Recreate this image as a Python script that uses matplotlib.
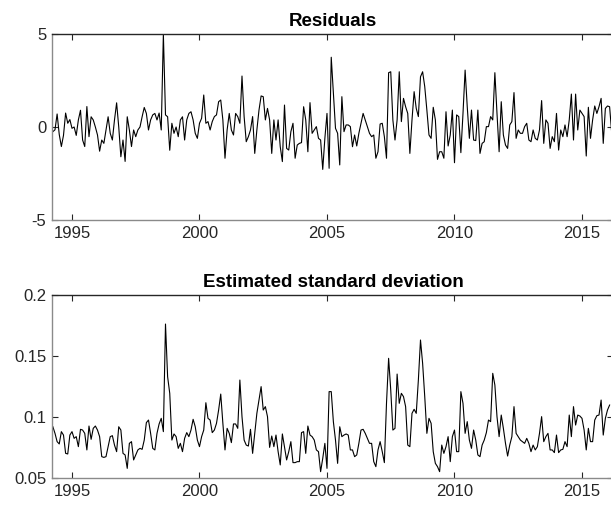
import numpy as np
import matplotlib
matplotlib.use("Agg")
import matplotlib.pyplot as plt

# monthly data, first observation April 1994
start_year = 1994
start_month = 4

residuals = [
    -0.25, -0.15, 0.7, -0.4, -1.05, -0.45, 0.75, 0.2, 0.4, -0.07, 0.0, -0.45, 0.38, 0.9, -0.7, -1.05,
    1.1, -0.52, 0.55, 0.38, 0.0, -0.43, -1.3, -0.7, -0.88, -0.16, 0.55, -0.34, -0.7, 0.38, 1.3, 0.0,
    -1.6, -0.7, -1.85, 0.55, -0.16, -1.05, -0.16, -0.52, -0.16, 0.0, 0.55, 1.05, 0.73, -0.16, 0.38, 0.65,
    0.73, 0.38, 0.75, -0.16, 5.0, 0.65, 0.55, -1.25, 0.2, -0.34, 0.0, -0.52, 0.38, 0.55, -0.7, 0.38,
    0.73, 0.82, 0.38, -0.34, -0.61, 0.2,
    0.47, 1.72, 0.2, 0.29, -0.16, 0.29, 0.56, 0.65, 1.36, 1.45, 0.38, -1.68, -0.16, 0.73, -0.16, -0.43,
    0.73, 0.56, 0.2, 2.74, 0.56, -0.79, -0.52, -0.16, 0.56, -1.42, -0.16, 0.91, 1.67, 1.63, 0.38, 1.0,
    0.38, -1.42, 0.38, -0.7, 0.38, -1.06, -1.86, 1.18, -1.15, -1.24, -0.25, 0.2, -1.68, -0.97, -0.88, -0.84,
    1.09, 0.38, -1.33, 1.31, -0.34, -0.16, 0.02, -0.61, -0.7, -2.28, -0.61, 0.73, -2.22, 3.75, 1.81, -0.07,
    -0.34, -2.04, 1.63, -0.25, 0.11, 0.11,
    0.02, -1.06, -0.43, -1.02, -0.34, 0.2, 0.73, 0.38, 0.02, -0.34, -0.52, -0.43, -1.68, -1.33, 0.16, 0.2,
    -0.52, -1.68, 2.92, 2.97, 0.38, -0.7, 0.38, 2.97, 0.29, 1.54, 1.09, 0.73, -1.42, 0.38, 1.9, 1.0,
    0.56, 2.7, 2.97, 2.17, 0.91, -0.43, -0.61, 1.06, 0.38, -1.74, -1.33, -1.33, -1.68, 0.82, -1.02, -0.43,
    0.91, -1.92, 0.65, 0.56, -1.38, 0.73, 3.06, 1.09, -0.61, 0.91, -0.7, -0.73, 0.91, -1.42, -0.88, -0.79,
    0.02, 0.02, 0.56,
    0.38, 2.92, 0.73, -1.33, 1.36, -0.43, -0.97, -1.15, 0.11, 0.29, 1.85, -0.61, -0.16, -0.34, -0.34, 0.02,
    0.2, -0.7, -0.79, -0.16, -0.61, -0.7, -0.16, 1.42, -0.88, 0.38, 0.2, -1.15, -0.52, -0.79, 0.73, -1.24,
    -0.16, -0.52, 0.11, -0.52, 0.38, 1.77, -0.7, 1.77, -0.16, 0.91, 0.73, 0.56, -1.56, 1.06, -0.61, 0.38,
    1.13, 0.73, 1.09, 1.54, -0.88, 1.0, 1.13, 1.09, -0.34,
]

std_dev = [
    0.092, 0.0866, 0.0798, 0.0779, 0.088, 0.0852, 0.0702, 0.0697, 0.0852, 0.088, 0.0825, 0.0839, 0.0757,
    0.0899, 0.0893, 0.0866, 0.073, 0.0926, 0.0817, 0.0907, 0.0926, 0.0893, 0.0839, 0.0675, 0.0669, 0.0675,
    0.0757, 0.0839, 0.0847, 0.077, 0.0716, 0.092, 0.0893, 0.0702, 0.0689, 0.0579, 0.0784, 0.0798, 0.0648,
    0.0689, 0.073, 0.0743, 0.0735, 0.0811, 0.0954, 0.0975, 0.0866, 0.0743, 0.073, 0.0866, 0.0943, 0.0989,
    0.088, 0.1762, 0.133, 0.1194, 0.0811, 0.0861, 0.0839, 0.0743, 0.0784, 0.0716, 0.0825, 0.0872, 0.0839,
    0.0893, 0.0981, 0.092, 0.0811, 0.0757,
    0.0839, 0.0893, 0.1117, 0.0989, 0.0975, 0.0872, 0.0893, 0.0948, 0.1057, 0.1188, 0.0948, 0.073, 0.0907,
    0.0866, 0.079, 0.0943, 0.0943, 0.0907, 0.1303, 0.1003, 0.0811, 0.077, 0.0762, 0.0899, 0.0702, 0.0866,
    0.103, 0.1139, 0.1249, 0.1057, 0.1085, 0.1003, 0.0751, 0.0844, 0.0757, 0.0852, 0.0716, 0.0607, 0.0861,
    0.0757, 0.0648, 0.0716, 0.0798, 0.0626, 0.0626, 0.0634, 0.0634, 0.0872, 0.088, 0.0702, 0.0926, 0.0852,
    0.0839, 0.0811, 0.073, 0.0716, 0.0552, 0.0661, 0.0784, 0.0579, 0.1208, 0.1208, 0.0962, 0.0811, 0.062,
    0.092, 0.0839, 0.0852,
    0.0861, 0.0852, 0.073, 0.073, 0.0675, 0.0689, 0.0784, 0.0893, 0.0899, 0.0866, 0.0825, 0.0784, 0.0784,
    0.0634, 0.0593, 0.073, 0.0798, 0.0716, 0.0626, 0.1112, 0.1481, 0.1221, 0.0893, 0.0907, 0.1352, 0.1112,
    0.1194, 0.1167, 0.1085, 0.077, 0.0757, 0.103, 0.1063, 0.103, 0.1303, 0.1631, 0.144, 0.1167, 0.0866,
    0.0989, 0.0948, 0.0716, 0.062, 0.0593, 0.0552, 0.077, 0.0702, 0.0757, 0.0839, 0.0634, 0.0839, 0.0893,
    0.0716, 0.0716, 0.1208, 0.1112, 0.0866, 0.0962, 0.0811, 0.0743, 0.0893, 0.0811, 0.0689, 0.0675, 0.077,
    0.0811, 0.0872,
    0.0975, 0.0962, 0.1358, 0.1262, 0.1003, 0.0839, 0.1016, 0.0907, 0.0784, 0.068, 0.077, 0.0839, 0.1085,
    0.0866, 0.0839, 0.0811, 0.0798, 0.0784, 0.0825, 0.0784, 0.0716, 0.077, 0.073, 0.0757, 0.0866, 0.1003,
    0.0798, 0.0839, 0.0866, 0.073, 0.073, 0.0708, 0.0852, 0.0708, 0.073, 0.0735, 0.0798, 0.0757, 0.1016,
    0.0839, 0.1085, 0.0934, 0.1016, 0.1008, 0.0989, 0.0893, 0.073, 0.0907, 0.0798, 0.0798, 0.0975, 0.1011,
    0.1016, 0.1139, 0.0852, 0.0989, 0.1057, 0.1098,
]

year_ticks = [1995, 2000, 2005, 2010, 2015]
res_ticks = [-5, 0, 5]
res_labels = ["-5", "0", "5"]
std_ticks = [0.05, 0.1, 0.15, 0.2]
std_labels = ["0.05", "0.1", "0.15", "0.2"]


def monthly_axis(n):
    return start_year + (start_month - 1) / 12 + np.arange(n) / 12


def style_axes(ax):
    dark = "#262626"
    light = "#8a8a8a"
    ax.spines["top"].set_color(dark)
    ax.spines["right"].set_color(dark)
    ax.spines["left"].set_color(light)
    ax.spines["bottom"].set_color(light)
    for s in ax.spines.values():
        s.set_linewidth(1.0)
    ax.tick_params(direction="in", top=True, right=True, length=4, width=0.8,
                   color=dark, labelcolor="#262626", labelsize=12, pad=4)
    ax.set_xticks(year_ticks)
    ax.set_xlim(1994.216, 2016.216)


def main():
    plt.rcParams["font.family"] = ["Liberation Sans", "DejaVu Sans"]
    plt.rcParams["axes.unicode_minus"] = False

    fig = plt.figure(figsize=(6.11, 5.08), dpi=100)
    ax1 = fig.add_axes([52 / 611, 1 - 220 / 508, 561 / 611, 186 / 508])
    ax2 = fig.add_axes([52 / 611, 1 - 478 / 508, 561 / 611, 183 / 508])

    ax1.plot(monthly_axis(len(residuals)), residuals, color="k", lw=0.8)
    ax1.set_ylim(-5, 5)
    ax1.set_yticks(res_ticks)
    ax1.set_yticklabels(res_labels)
    style_axes(ax1)
    ax1.text(333 / 611, 1 - 26 / 508, "Residuals", transform=fig.transFigure,
             ha="center", va="baseline", fontsize=13.5, fontweight="bold")

    ax2.plot(monthly_axis(len(std_dev)), std_dev, color="k", lw=0.8)
    ax2.set_ylim(0.05, 0.2)
    ax2.set_yticks(std_ticks)
    ax2.set_yticklabels(std_labels)
    style_axes(ax2)
    ax2.text(333 / 611, 1 - 287 / 508, "Estimated standard deviation", transform=fig.transFigure,
             ha="center", va="baseline", fontsize=13.5, fontweight="bold")

    fig.savefig("out.png", dpi=100)


if __name__ == "__main__":
    main()
